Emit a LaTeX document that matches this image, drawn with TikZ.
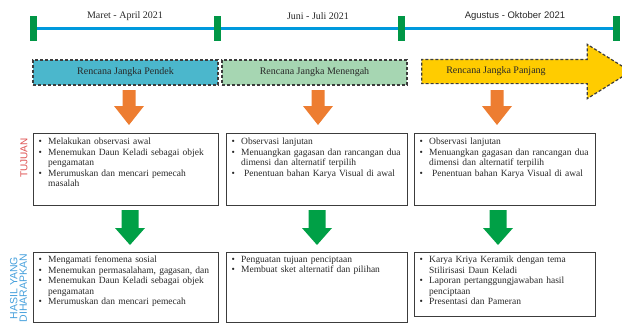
\documentclass[tikz,border=0pt]{standalone}
\usepackage{amsmath}
\usepackage{amssymb}
\usepackage{fontspec}
\setmainfont{Liberation Serif}
\newfontfamily\arialfont{Liberation Sans}
\usepackage{tikz}
\usetikzlibrary{positioning,shapes.arrows}

\definecolor{lineblue}{RGB}{0,153,221}
\definecolor{markgreen}{RGB}{0,150,70}
\definecolor{shortfill}{RGB}{75,183,204}
\definecolor{midfill}{RGB}{166,214,178}
\definecolor{longfill}{RGB}{255,204,0}
\definecolor{arroworange}{RGB}{237,125,49}
\definecolor{arrowgreen}{RGB}{0,160,70}
\definecolor{tujuanred}{RGB}{222,80,80}
\definecolor{hasilblue}{RGB}{70,160,220}
\definecolor{boxline}{RGB}{60,60,60}
\definecolor{bodytext}{RGB}{40,40,40}

\newcommand{\bul}[1]{\noindent\hangindent=15pt\hangafter=1\makebox[15pt][l]{\hspace{5.5pt}\textbullet}#1\par}
\newcommand{\blockdown}[6]{\fill[#1] (#2) ++(-#3,0) -- ++({2*#3},0) -- ++(0,#4) -- ++({#5-#3},0) -- ++({-#5},#6) -- ++({-#5},{-#6}) -- ++({#5-#3},0) -- cycle;}

\tikzset{
    marker/.style={rectangle, fill=markgreen, minimum width=7pt, minimum height=25pt, inner sep=0pt},
    datelabel/.style={font=\fontsize{10}{12}\selectfont, text=bodytext, inner sep=0pt},
    planbox/.style={rectangle, draw=boxline, densely dashed, line width=1.2pt, minimum height=25pt, inner sep=0pt, text=bodytext, font=\fontsize{10}{12}\selectfont},
    listbox/.style={rectangle, draw=boxline, line width=1.1pt, anchor=north west, inner sep=0pt},
    listtext/.style={inner sep=0pt, align=left, text=bodytext, font=\fontsize{9.5}{10.5}\selectfont}
}

\begin{document}
\begin{tikzpicture}[x=1pt, y=-1pt]
        \useasboundingbox (0,0) rectangle (622,324);

        \coordinate (t0) at (33,28);
        \coordinate (t3) at (616,28);
        \draw[lineblue, line width=3pt] (t0) -- (t3);
        \node[marker] (m1) at (t0) {};
        \node[marker] (m2) at (217,28) {};
        \node[marker] (m3) at (401,28) {};
        \node[marker] (m4) at (t3) {};

        \node[datelabel] (d1) at (125,16) {Maret - April 2021};
        \node[datelabel] (d2) at (318,16) {Juni - Juli 2021};
        \node[datelabel, font=\arialfont\fontsize{9.5}{12}\selectfont] (d3) at (515,16) {Agustus - Oktober 2021};

        \node[planbox, fill=shortfill, minimum width=185pt] (short) at (125.5,72.5) {Rencana Jangka Pendek};
        \node[planbox, fill=midfill, minimum width=185pt] (mid) at (314.5,72.5) {Rencana Jangka Menengah};
        \node[shape=single arrow, draw=boxline, densely dashed, line width=1.2pt, fill=longfill, inner sep=0pt, inner ysep=11.5pt, minimum height=209pt, single arrow head extend=15pt, single arrow tip angle=64, single arrow head indent=0pt] (long) at (516.5,71.5) {};
        \node[datelabel] (longtxt) at (496,71.5) {Rencana Jangka Panjang};

        \coordinate (o1) at (129,90);
        \coordinate (o2) at (318,90);
        \coordinate (o3) at (497,90);
        \blockdown{arroworange}{o1}{6.5}{16}{15}{19}
        \blockdown{arroworange}{o2}{6.5}{16}{15}{19}
        \blockdown{arroworange}{o3}{6.5}{16}{15}{19}

        \node[listbox, minimum width=185pt, minimum height=72pt] (goal1) at (33,133) {};
        \node[listbox, minimum width=181pt, minimum height=72pt] (goal2) at (226,133) {};
        \node[listbox, minimum width=181pt, minimum height=72pt] (goal3) at (414,133) {};

        \node[listtext, text width=180pt, below right=5pt and 0pt of goal1.north west] (goal1txt) {%
            \bul{Melakukan observasi awal}
            \bul{Menemukan Daun Keladi sebagai objek\newline pengamatan}
            \bul{Merumuskan dan mencari pemecah\newline masalah}};
        \node[listtext, text width=178pt, below right=5pt and 0pt of goal2.north west] (goal2txt) {%
            \bul{Observasi lanjutan}
            \bul{Menuangkan gagasan dan rancangan dua\newline dimensi dan alternatif terpilih}
            \bul{\hspace{3pt}Penentuan bahan Karya Visual di awal}};
        \node[listtext, text width=178pt, below right=5pt and 0pt of goal3.north west] (goal3txt) {%
            \bul{Observasi lanjutan}
            \bul{Menuangkan gagasan dan rancangan dua\newline dimensi dan alternatif terpilih}
            \bul{\hspace{3pt}Penentuan bahan Karya Visual di awal}};

        \node[rotate=90, text=tujuanred, font=\arialfont\fontsize{10}{12}\selectfont, inner sep=0pt] (tujuan) at (24,158) {TUJUAN};

        \coordinate (g1) at (130,210);
        \coordinate (g2) at (317,210);
        \coordinate (g3) at (498,210);
        \blockdown{arrowgreen}{g1}{8.5}{18}{15}{17}
        \blockdown{arrowgreen}{g2}{8.5}{18}{15}{17}
        \blockdown{arrowgreen}{g3}{8.5}{18}{15}{17}

        \node[listbox, minimum width=185pt, minimum height=70pt] (hasil1) at (33,252) {};
        \node[listbox, minimum width=181pt, minimum height=70pt] (hasil2) at (226,252) {};
        \node[listbox, minimum width=181pt, minimum height=64pt] (hasil3) at (414,252) {};

        \node[listtext, text width=180pt, below right=4pt and 0pt of hasil1.north west] (hasil1txt) {%
            \bul{Mengamati fenomena sosial}
            \bul{Menemukan permasalaham, gagasan, dan}
            \bul{Menemukan Daun Keladi sebagai objek\newline pengamatan}
            \bul{Merumuskan dan mencari pemecah}};
        \node[listtext, text width=178pt, below right=4pt and 0pt of hasil2.north west] (hasil2txt) {%
            \bul{Penguatan tujuan penciptaan}
            \bul{Membuat sket alternatif dan pilihan}};
        \node[listtext, text width=178pt, below right=4pt and 0pt of hasil3.north west] (hasil3txt) {%
            \bul{Karya Kriya Keramik dengan tema\newline Stilirisasi Daun Keladi}
            \bul{Laporan pertanggungjawaban hasil\newline penciptaan}
            \bul{Presentasi dan Pameran}};

        \node[rotate=90, align=center, text=hasilblue, font=\arialfont\fontsize{10.5}{9.5}\selectfont, inner sep=0pt] (hasil) at (18.5,288) {HASIL YANG\\DIHARAPKAN};
    \end{tikzpicture}
\end{document}
